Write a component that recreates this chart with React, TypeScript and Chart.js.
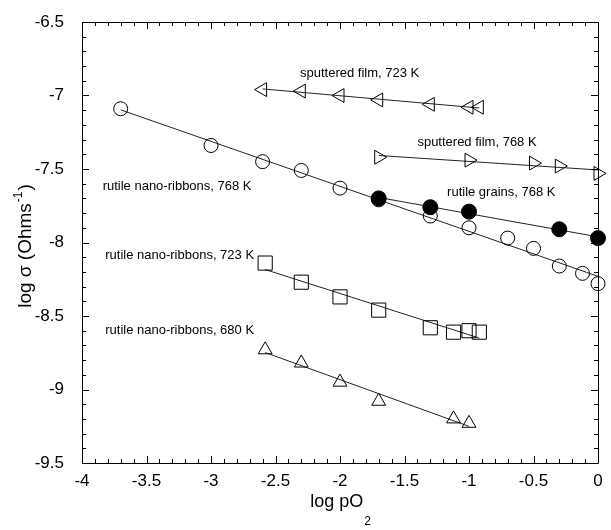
import React, { useEffect, useRef } from "react";
import { Chart, registerables } from "chart.js";

Chart.register(...registerables);

const FONT = '"Liberation Sans", Arial, Helvetica, sans-serif';

// sputtered film, 723 K (left-pointing triangles)
const sf723X = [-2.6, -2.3, -2.0, -1.7, -1.3, -1.0, -0.92];
const sf723Y = [-6.96, -6.97, -7.0, -7.03, -7.06, -7.08, -7.08];
// sputtered film, 768 K (right-pointing triangles)
const sf768X = [-1.7, -1.0, -0.5, -0.3, 0];
const sf768Y = [-7.42, -7.44, -7.46, -7.48, -7.53];
// rutile nano-ribbons, 768 K (open circles)
const nr768X = [-3.7, -3.0, -2.6, -2.3, -2.0, -1.7, -1.3, -1.0, -0.7, -0.5, -0.3, -0.12, 0];
const nr768Y = [-7.09, -7.34, -7.45, -7.51, -7.63, -7.71, -7.82, -7.9, -7.97, -8.04, -8.16, -8.21, -8.28];
// rutile grains, 768 K (filled circles)
const grX = [-1.7, -1.3, -1.0, -0.3, 0];
const grY = [-7.7, -7.76, -7.79, -7.91, -7.97];
// rutile nano-ribbons, 723 K (squares)
const nr723X = [-2.58, -2.3, -2.0, -1.7, -1.3, -1.12, -1.0, -0.92];
const nr723Y = [-8.14, -8.27, -8.37, -8.46, -8.58, -8.61, -8.6, -8.61];
// rutile nano-ribbons, 680 K (up triangles)
const nr680X = [-2.58, -2.3, -2.0, -1.7, -1.12, -1.0];
const nr680Y = [-8.73, -8.82, -8.95, -9.08, -9.2, -9.23];

const xTickValues = [-4, -3.5, -3, -2.5, -2, -1.5, -1, -0.5, 0];
const yTickValues = [-9.5, -9, -8.5, -8, -7.5, -7, -6.5];

const labelTexts = [
  "sputtered film, 723 K",
  "sputtered film, 768 K",
  "rutile nano-ribbons, 768 K",
  "rutile grains, 768 K",
  "rutile nano-ribbons, 723 K",
  "rutile nano-ribbons, 680 K",
];
const labelX = [-2.31, -1.4, -3.84, -1.17, -3.82, -3.82];
const labelY = [-6.847, -7.316, -7.616, -7.656, -8.09, -8.6];

function pts(xs: number[], ys: number[]) {
  return xs.map((x, i) => ({ x, y: ys[i] }));
}

function fitLine(xs: number[], ys: number[]) {
  const n = xs.length;
  const mx = xs.reduce((a, b) => a + b, 0) / n;
  const my = ys.reduce((a, b) => a + b, 0) / n;
  let sxy = 0;
  let sxx = 0;
  for (let i = 0; i < n; i++) {
    sxy += (xs[i] - mx) * (ys[i] - my);
    sxx += (xs[i] - mx) * (xs[i] - mx);
  }
  const b = sxy / sxx;
  const a = my - b * mx;
  const x0 = Math.min(...xs);
  const x1 = Math.max(...xs);
  return [
    { x: x0, y: a + b * x0 },
    { x: x1, y: a + b * x1 },
  ];
}

export default function App() {
  const ref = useRef<HTMLCanvasElement | null>(null);

  useEffect(() => {
    document.body.style.margin = "0";
    const canvas = ref.current;
    if (!canvas) return;

    const framePlugin = {
      id: "frameTicks",
      afterDraw(chart: any) {
        const ctx = chart.ctx;
        const { left, right, top, bottom } = chart.chartArea;
        const xs = chart.scales.x;
        const ys = chart.scales.y;
        ctx.save();
        ctx.strokeStyle = "#000";
        ctx.lineWidth = 1;
        ctx.beginPath();
        ctx.rect(Math.round(left) + 0.5, Math.round(top) + 0.5, Math.round(right - left), Math.round(bottom - top));
        ctx.stroke();
        ctx.beginPath();
        for (let i = -40; i <= 0; i++) {
          const px = Math.round(xs.getPixelForValue(i / 10)) + 0.5;
          const len = i % 5 === 0 ? 7 : 4;
          ctx.moveTo(px, bottom);
          ctx.lineTo(px, bottom - len);
          ctx.moveTo(px, top);
          ctx.lineTo(px, top + len);
        }
        for (let i = -95; i <= -65; i++) {
          const py = Math.round(ys.getPixelForValue(i / 10)) + 0.5;
          const len = i % 5 === 0 ? 7 : 4;
          ctx.moveTo(left, py);
          ctx.lineTo(left + len, py);
          ctx.moveTo(right, py);
          ctx.lineTo(right - len, py);
        }
        ctx.stroke();

        // annotations
        ctx.fillStyle = "#000";
        ctx.font = `13px ${FONT}`;
        ctx.textAlign = "left";
        ctx.textBaseline = "middle";
        labelTexts.forEach((t, i) => {
          ctx.fillText(t, xs.getPixelForValue(labelX[i]), ys.getPixelForValue(labelY[i]));
        });

        // x title
        const big = `18px ${FONT}`;
        const small = `12px ${FONT}`;
        ctx.textBaseline = "alphabetic";
        ctx.font = big;
        const xa = "log pO";
        const wa = ctx.measureText(xa).width;
        ctx.font = small;
        const wb = ctx.measureText("2").width;
        const cx = (left + right) / 2;
        const sx = cx - (wa + wb) / 2;
        ctx.font = big;
        ctx.fillText(xa, sx, 507);
        ctx.font = small;
        ctx.fillText("2", sx + wa + 1, 525);

        // y title
        const bigY = `19px ${FONT}`;
        const smallY = `12px ${FONT}`;
        ctx.save();
        ctx.translate(31, 246);
        ctx.rotate(-Math.PI / 2);
        const p1 = "log \u03c3 (Ohms";
        const p2 = "-1";
        const p3 = ")";
        ctx.font = bigY;
        const w1 = ctx.measureText(p1).width;
        const w3 = ctx.measureText(p3).width;
        ctx.font = smallY;
        const w2 = ctx.measureText(p2).width;
        const tot = w1 + w2 + w3 + 2;
        let u = -tot / 2;
        ctx.font = bigY;
        ctx.fillText(p1, u, 0);
        u += w1 + 1;
        ctx.font = smallY;
        ctx.fillText(p2, u, -9);
        u += w2 + 1;
        ctx.font = bigY;
        ctx.fillText(p3, u, 0);
        ctx.restore();

        ctx.restore();
      },
    };

    const lineColor = "#222";
    const markerBase = {
      type: "scatter" as const,
      showLine: false,
      borderColor: "#000",
      borderWidth: 1,
      backgroundColor: "rgba(0,0,0,0)",
      clip: false as any,
    };
    const lineBase = {
      type: "scatter" as const,
      showLine: true,
      borderColor: lineColor,
      borderWidth: 1,
      pointRadius: 0,
      pointHoverRadius: 0,
      clip: false as any,
    };

    const zeroPad = (s: any) => {
      s.paddingTop = 0;
      s.paddingBottom = 0;
      s.paddingLeft = 0;
      s.paddingRight = 0;
    };

    const chart = new Chart(canvas, {
      type: "scatter",
      data: {
        datasets: [
          { ...markerBase, label: "grains", data: pts(grX, grY), pointStyle: "circle", pointRadius: 7.5, backgroundColor: "#000" },
          { ...markerBase, label: "nr768", data: pts(nr768X, nr768Y), pointStyle: "circle", pointRadius: 7 },
          { ...markerBase, label: "sf723", data: pts(sf723X, sf723Y), pointStyle: "triangle", pointRotation: -90, pointRadius: 8 },
          { ...markerBase, label: "sf768", data: pts(sf768X, sf768Y), pointStyle: "triangle", pointRotation: 90, pointRadius: 8 },
          { ...markerBase, label: "nr723", data: pts(nr723X, nr723Y), pointStyle: "rect", pointRadius: 10 },
          { ...markerBase, label: "nr680", data: pts(nr680X, nr680Y), pointStyle: "triangle", pointRadius: 8 },
          { ...lineBase, label: "f1", data: fitLine(grX, grY) },
          { ...lineBase, label: "f2", data: fitLine(nr768X, nr768Y) },
          { ...lineBase, label: "f3", data: fitLine(sf723X, sf723Y) },
          { ...lineBase, label: "f4", data: fitLine(sf768X, sf768Y) },
          { ...lineBase, label: "f5", data: fitLine(nr723X, nr723Y) },
          { ...lineBase, label: "f6", data: fitLine(nr680X, nr680Y) },
        ] as any,
      },
      options: {
        responsive: false,
        animation: false,
        events: [],
        layout: { padding: { left: 0, top: 22, right: 13, bottom: 0 } },
        plugins: {
          legend: { display: false },
          title: { display: false },
          tooltip: { enabled: false },
        },
        scales: {
          x: {
            type: "linear",
            min: -4,
            max: 0,
            afterBuildTicks: (s: any) => {
              s.ticks = xTickValues.map((v) => ({ value: v }));
            },
            ticks: {
              font: { size: 17, family: FONT },
              color: "#000",
              padding: 8,
              maxRotation: 0,
              autoSkip: false,
              callback: (v: any) => String(Math.round(Number(v) * 10) / 10),
            },
            grid: { display: false, tickLength: 0, drawTicks: false },
            border: { display: false },
            afterFit: (s: any) => {
              s.height = 67;
              zeroPad(s);
            },
          },
          y: {
            type: "linear",
            min: -9.5,
            max: -6.5,
            afterBuildTicks: (s: any) => {
              s.ticks = yTickValues.map((v) => ({ value: v }));
            },
            ticks: {
              font: { size: 17, family: FONT },
              color: "#000",
              padding: 18,
              autoSkip: false,
              callback: (v: any) => String(Math.round(Number(v) * 10) / 10),
            },
            grid: { display: false, tickLength: 0, drawTicks: false },
            border: { display: false },
            afterFit: (s: any) => {
              s.width = 82;
              zeroPad(s);
            },
          },
        },
      },
      plugins: [framePlugin],
    });

    return () => chart.destroy();
  }, []);

  return (
    <div style={{ width: 611, height: 530, position: "relative", background: "#fff" }}>
      <canvas ref={ref} width={611} height={530} style={{ display: "block" }} />
    </div>
  );
}
